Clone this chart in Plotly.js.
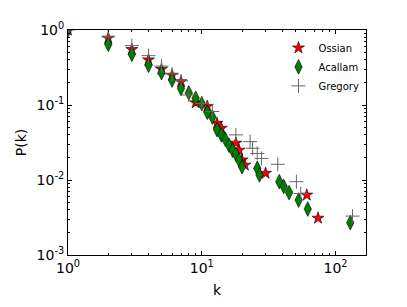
<!DOCTYPE html>
<html>
<head>
<meta charset="utf-8">
<script src="https://cdn.plot.ly/plotly-3.0.1.min.js"></script>
<style>html,body{margin:0;padding:0;background:#fff;}#chart{width:407px;height:307px;}</style>
</head>
<body>
<div id="chart"></div>
<script>
// Degree distributions P(k)
var ossianK = [1, 2, 3, 4, 5, 6, 7, 9, 11, 13, 14, 18, 19, 20, 21, 30, 61, 74];
var ossianP = [1, 0.78, 0.55, 0.40, 0.30, 0.25, 0.205, 0.107, 0.096, 0.057, 0.049, 0.031, 0.025, 0.0185, 0.0158, 0.0123, 0.0063, 0.0031];

var acallamK = [1, 2, 3, 4, 5, 6, 7, 8, 9, 10, 11, 12, 13, 14, 15, 16, 17, 18, 19, 20, 26, 27, 38, 41, 45, 53, 62, 129];
var acallamP = [1, 0.645, 0.474, 0.34, 0.27, 0.215, 0.166, 0.145, 0.123, 0.104, 0.080, 0.069, 0.047, 0.040, 0.035, 0.029, 0.025, 0.022, 0.0185, 0.015, 0.0143, 0.0117, 0.0095, 0.0082, 0.0068, 0.0054, 0.0041, 0.0027];

var gregoryK = [1, 2, 3, 4, 5, 6, 7, 8, 10, 12, 18, 23, 24, 26, 28, 37, 51, 55, 134];
var gregoryP = [1, 0.81, 0.62, 0.455, 0.33, 0.26, 0.21, 0.136, 0.105, 0.082, 0.040, 0.0325, 0.0265, 0.0226, 0.0194, 0.0162, 0.0095, 0.0066, 0.0033];

var xTickVals = [1, 10, 100];
var xTickText = ['10<sup>0</sup>', '10<sup>1</sup>', '10<sup>2</sup>'];
var yTickVals = [0.001, 0.01, 0.1, 1];
var yTickText = ['10<sup>-3</sup>', '10<sup>-2</sup>', '10<sup>-1</sup>', '10<sup>0</sup>'];
var xMinor = [2,3,4,5,6,7,8,9,20,30,40,50,60,70,80,90];
var yMinor = [0.002,0.003,0.004,0.005,0.006,0.007,0.008,0.009,0.02,0.03,0.04,0.05,0.06,0.07,0.08,0.09,0.2,0.3,0.4,0.5,0.6,0.7,0.8,0.9];

var traces = [
  {x: ossianK, y: ossianP, name: 'Ossian', mode: 'markers', type: 'scatter',
   marker: {symbol: 'star', size: 9, color: '#ff0000', line: {color: '#000', width: 0.6}}},
  {x: acallamK, y: acallamP, name: 'Acallam', mode: 'markers', type: 'scatter',
   marker: {symbol: 'diamond-tall', size: 10.5, color: '#008000', line: {color: '#000', width: 0.6}}},
  {x: gregoryK, y: gregoryP, name: 'Gregory', mode: 'markers', type: 'scatter',
   marker: {symbol: 'cross-thin', size: 10, color: '#666', line: {color: '#666', width: 1}}}
];

var axisCommon = {
  showline: true, mirror: 'ticks', linecolor: '#000', linewidth: 1,
  ticks: 'inside', ticklen: 4, tickcolor: '#000', tickwidth: 1,
  showgrid: false, zeroline: false,
  tickfont: {family: 'DejaVu Sans', size: 14, color: '#000'}
};

var layout = {
  width: 407, height: 307,
  margin: {l: 68, r: 41, t: 30, b: 52},
  paper_bgcolor: '#fff', plot_bgcolor: '#fff',
  showlegend: true,
  xaxis: Object.assign({}, axisCommon, {
    type: 'log', range: [0, Math.log10(169)],
    tickmode: 'array', tickvals: xTickVals, ticktext: xTickText,
    minor: {tickmode: 'array', tickvals: xMinor, ticks: 'inside', ticklen: 2, tickcolor: '#000', showgrid: false},
    title: {text: 'k', font: {family: 'DejaVu Sans', size: 14, color: '#000'}, standoff: 10}
  }),
  yaxis: Object.assign({}, axisCommon, {
    type: 'log', range: [-3, 0],
    tickmode: 'array', tickvals: yTickVals, ticktext: yTickText,
    minor: {tickmode: 'array', tickvals: yMinor, ticks: 'inside', ticklen: 2, tickcolor: '#000', showgrid: false},
    title: {text: 'P(k)', font: {family: 'DejaVu Sans', size: 14, color: '#000'}, standoff: 6}
  }),
  legend: {
    x: 0.995, y: 0.985, xanchor: 'right', yanchor: 'top',
    bgcolor: 'rgba(0,0,0,0)', borderwidth: 0,
    font: {family: 'DejaVu Sans', size: 10, color: '#000'},
    itemwidth: 30,
    tracegroupgap: 0
  }
};

Plotly.newPlot('chart', traces, layout, {displayModeBar: false, staticPlot: true});
</script>
</body>
</html>
